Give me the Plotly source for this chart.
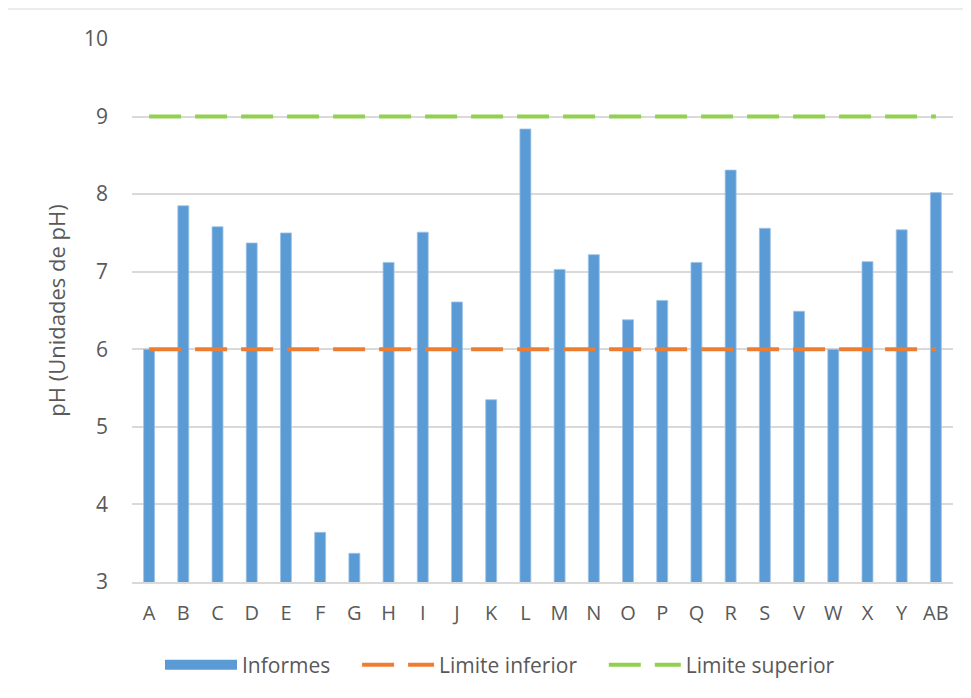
import plotly.graph_objects as go

categories = ["A", "B", "C", "D", "E", "F", "G", "H", "I", "J", "K", "L", "M", "N",
              "O", "P", "Q", "R", "S", "V", "W", "X", "Y", "AB"]
informes = [6.0, 7.85, 7.58, 7.37, 7.50, 3.64, 3.37, 7.12, 7.51, 6.61, 5.35, 8.84,
            7.03, 7.22, 6.38, 6.63, 7.12, 8.31, 7.56, 6.49, 6.0, 7.13, 7.54, 8.02]
limite_inferior = [6] * len(categories)
limite_superior = [9] * len(categories)
y_ticks = [3, 4, 5, 6, 7, 8, 9, 10]

font_family = "'Open Sans', sans-serif"
gray_text = "#595959"
blue = "#5B9BD5"
pad = "\u00a0" * 4  # extra spacing between legend entries

fig = go.Figure()
fig.add_trace(go.Bar(
    x=categories, y=informes, name="Informes", showlegend=False,
    marker=dict(color=blue, line=dict(color="#9DC3E6", width=0.8)),
))
# legend-only entry giving the wide bar swatch
fig.add_trace(go.Scatter(
    x=[None], y=[None], name="Informes" + pad, mode="lines",
    line=dict(color=blue, width=11), hoverinfo="skip",
))
fig.add_trace(go.Scatter(
    x=categories, y=limite_inferior, name="Limite inferior" + pad, mode="lines",
    line=dict(color="#ED7D31", width=4, dash="32px,14px"),
))
fig.add_trace(go.Scatter(
    x=categories, y=limite_superior, name="Limite superior", mode="lines",
    line=dict(color="#92D050", width=4, dash="32px,14px"),
))

OFF = 8  # page body margin
W, H = 971 - OFF, 698 - OFF
left_px, right_px, top_px, bottom_px = 132, 953, 39, 582
ml = left_px - OFF
mr = W - (right_px - OFF)
mt = top_px - OFF
mb = H - (bottom_px - OFF)
pw, ph = W - ml - mr, H - mt - mb

def px2x(px):
    return (px - left_px) / pw

def py2y(py):
    return (bottom_px - py) / ph

fig.update_layout(
    width=W, height=H,
    margin=dict(l=ml, r=mr, t=mt, b=mb),
    paper_bgcolor="white", plot_bgcolor="white",
    bargap=0.68,
    font=dict(family=font_family, size=21, color=gray_text),
    showlegend=True,
    legend=dict(
        orientation="h", x=px2x(500), xanchor="center",
        y=py2y(665), yanchor="middle",
        font=dict(size=21, color=gray_text),
        itemwidth=72,
    ),
    xaxis=dict(
        showgrid=False, showline=True, linecolor="#D9D9D9", linewidth=1.5,
        ticks="", ticklabelstandoff=12, tickfont=dict(size=20, color=gray_text),
    ),
    yaxis=dict(
        range=[3, 10], tickvals=y_ticks, showgrid=True, gridcolor="#D9D9D9",
        gridwidth=1.5, zeroline=False, showline=False, ticks="",
        ticklabelstandoff=23,
        tickfont=dict(size=21, color=gray_text),
        title=dict(text="pH (Unidades de pH)", font=dict(size=22, color=gray_text), standoff=12),
    ),
    shapes=[dict(
        type="rect", xref="paper", yref="paper",
        x0=px2x(6), x1=px2x(980), y0=py2y(710), y1=py2y(9),
        line=dict(color="#D9D9D9", width=1), fillcolor="rgba(0,0,0,0)", layer="below",
    )],
)

fig.write_html("out.html")
